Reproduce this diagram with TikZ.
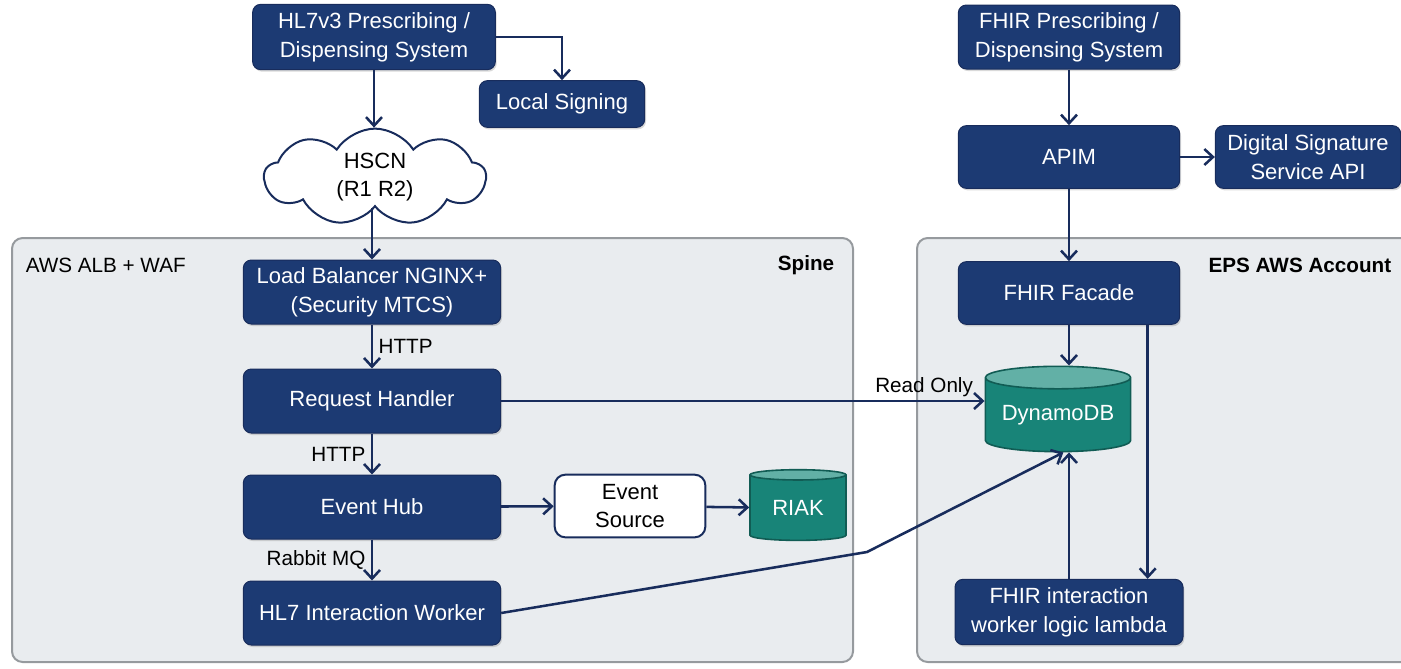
\documentclass[tikz,border=0pt]{standalone}
\usepackage{fontspec}
\setmainfont{Liberation Sans}
\usetikzlibrary{shapes.geometric,shapes.symbols,arrows.meta,shadows}

\definecolor{navy}{RGB}{28,58,115}
\definecolor{navyline}{RGB}{24,44,92}
\definecolor{dbteal}{RGB}{24,132,120}
\definecolor{dbtop}{RGB}{98,176,166}
\definecolor{panel}{RGB}{233,236,239}
\definecolor{panelline}{RGB}{150,154,158}

\tikzset{every picture/.style={line width=0.75pt}}
\tikzset{
  navybox/.style={rectangle, rounded corners=6pt, fill=navy, draw=navyline, text=white, align=center,
    font=\fontsize{16.5}{21.5}\selectfont, inner sep=0pt,
    drop shadow={shadow xshift=1pt, shadow yshift=-1.5pt, opacity=0.3}},
  whitebox/.style={rectangle, rounded corners=8pt, fill=white, draw=navyline, line width=1.5pt, align=center,
    font=\fontsize{16.5}{21.5}\selectfont, inner sep=0pt},
  dbase/.style={cylinder, shape border rotate=90, aspect=0.2, cylinder uses custom fill,
    cylinder body fill=dbteal, cylinder end fill=dbtop, draw=dbteal!70!black, line width=1.2pt,
    text=white, font=\fontsize{16.5}{20}\selectfont, inner sep=0pt},
  panelbox/.style={rounded corners=8pt, fill=panel, draw=panelline, line width=1.5pt},
  tag/.style={font=\fontsize{15.5}{18}\selectfont, inner sep=4pt},
  flow/.style={draw=navyline, line width=1.9pt, -{Straight Barb[length=6.5pt,width=12pt,line width=1.9pt]}}
}

\begin{document}
\begin{tikzpicture}[x=0.75pt,y=0.75pt,yscale=-1,xscale=1]
\useasboundingbox (0,0) rectangle (1401,668);

% Shape: Spine panel
\draw [panelbox] (12,238) rectangle (853,662);
% Shape: EPS panel
\draw [panelbox] (917,238) rectangle (1412,662);

% Text Node
\node [tag, anchor=west] (awslbl) at (20,265) {AWS ALB + WAF};
\node [tag, anchor=east, font=\fontsize{15.5}{18}\selectfont\bfseries] (spinelbl) at (840,265) {Spine};
\node [tag, anchor=east, font=\fontsize{15.5}{18}\selectfont\bfseries] (epslbl) at (1397,265) {EPS AWS Account};

% Spine side
\node [navybox, minimum width=182pt, minimum height=49pt] (hlsys) at (374,37) {HL7v3 Prescribing /\\Dispensing System};
\node [navybox, minimum width=124pt, minimum height=35pt] (localsign) at (562,104) {Local Signing};
\node [cloud, cloud puffs=9, cloud puff arc=115, aspect=2.5, draw=navyline, fill=white, line width=1.5pt,
  minimum width=166pt, minimum height=70pt, align=center, inner sep=0pt,
  font=\fontsize{16.5}{21.5}\selectfont] (hscn) at (375,177) {HSCN\\(R1 R2)};
\node [navybox, minimum width=193pt, minimum height=48pt] (lbal) at (372,292) {Load Balancer NGINX+\\(Security MTCS)};
\node [navybox, minimum width=193pt, minimum height=48pt] (reqh) at (372,401) {Request Handler};
\node [navybox, minimum width=193pt, minimum height=48pt] (evhub) at (372,507) {Event Hub};
\node [navybox, minimum width=193pt, minimum height=48pt] (hlworker) at (372,613) {HL7 Interaction Worker};
\node [whitebox, minimum width=113pt, minimum height=47pt] (evsrc) at (630,506) {Event\\Source};
\node [dbase, minimum width=72pt, minimum height=53pt] (riak) at (798,508) {RIAK};

% EPS side
\node [navybox, minimum width=166pt, minimum height=48pt] (fhirsys) at (1069,37) {FHIR Prescribing /\\Dispensing System};
\node [navybox, minimum width=166pt, minimum height=47pt] (apim) at (1069,157) {APIM};
\node [navybox, minimum width=139pt, minimum height=47pt] (dss) at (1308,157) {Digital Signature\\Service API};
\node [navybox, minimum width=166pt, minimum height=47pt] (facade) at (1069,293) {FHIR Facade};
\node [dbase, minimum width=109pt, minimum height=64pt] (dynamo) at (1058,415) {DynamoDB};
\node [navybox, minimum width=171pt, minimum height=49pt] (lambda) at (1069,612) {FHIR interaction\\worker logic lambda};

\coordinate (kink) at (867,552);

% Connectors
\draw [flow] (hlsys.east) -| (localsign.north);
\draw [flow] (hlsys.south) -- (hlsys.south |- hscn.north);
\draw [flow] (hscn.south -| lbal.north) -- (lbal.north);
\draw [flow] (lbal) -- (reqh) node [tag, midway, right] {HTTP};
\draw [flow] (reqh) -- (evhub) node [tag, midway, left] {HTTP};
\draw [flow] (evhub) -- (hlworker) node [tag, midway, left] {Rabbit MQ};
\draw [flow] (evhub) -- (evsrc);
\draw [flow] (evsrc) -- (riak);
\draw [flow] (reqh.east) -- (reqh.east -| dynamo.west) node [tag, pos=0.875, above, inner sep=2pt] {Read Only};
\draw [flow] (hlworker.east) -- (kink) -- ([xshift=4pt]dynamo.south);

\draw [flow] (fhirsys) -- (apim);
\draw [flow] (apim) -- (dss);
\draw [flow] (apim) -- (facade);
\draw [flow] (facade.south) -- (facade.south |- dynamo.north);
\draw [flow] ([xshift=59pt]facade.south) -- ([xshift=59pt]facade.south |- lambda.north);
\draw [flow] (lambda.north) -- (lambda.north |- dynamo.south);

\end{tikzpicture}
\end{document}
